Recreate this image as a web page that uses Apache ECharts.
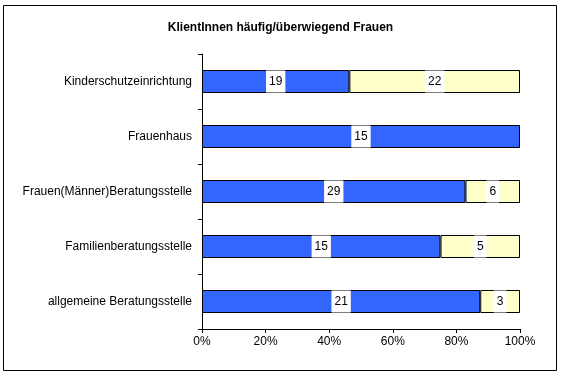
<!DOCTYPE html>
<html>
<head>
<meta charset="utf-8">
<script src="https://cdn.jsdelivr.net/npm/echarts@6/dist/echarts.min.js"></script>
<style>
  html, body { margin: 0; padding: 0; background: #fff; }
  #chart { width: 561px; height: 376px; }
</style>
</head>
<body>
<div id="chart"></div>
<script>
// categories top to bottom
const categories = [
  'Kinderschutzeinrichtung',
  'Frauenhaus',
  'Frauen(Männer)Beratungsstelle',
  'Familienberatungsstelle',
  'allgemeine Beratungsstelle',
];
// counts per category
const countsYes = [19, 15, 29, 15, 21];
const countsNo = [22, 0, 6, 5, 3];
const xTicks = [0, 20, 40, 60, 80, 100];

const totals = countsYes.map((v, i) => v + countsNo[i]);
const toPct = (arr) => arr.map((v, i) => (totals[i] ? (v / totals[i]) * 100 : 0));

const font = '"Liberation Sans", Arial, sans-serif';

const makeSeries = (name, counts, color) => ({
  name,
  type: 'bar',
  stack: 'total',
  barWidth: 23,
  data: toPct(counts).map((p, i) => (counts[i] ? { value: p, count: counts[i] } : null)),
  itemStyle: { color, borderColor: '#000', borderWidth: 1 },
  label: {
    show: true,
    position: 'inside',
    color: '#000',
    backgroundColor: '#fff',
    borderWidth: 0,
    textBorderWidth: 0,
    padding: [5, 3, 5, 3],
    fontFamily: font,
    fontSize: 12,
    formatter: (p) => String(p.data.count),
  },
  emphasis: { disabled: true },
});

const chart = echarts.init(document.getElementById('chart'), null, { renderer: 'canvas' });

chart.setOption({
  animation: false,
  title: {
    text: 'KlientInnen häufig/überwiegend Frauen',
    left: 'center',
    top: 17,
    textStyle: { fontFamily: font, fontSize: 12, fontWeight: 'bold', color: '#000' },
  },
  graphic: [{
    type: 'rect',
    shape: { x: 3.5, y: 5.5, width: 553, height: 365 },
    style: { fill: 'none', stroke: '#000', lineWidth: 1 },
    silent: true,
  }],
  grid: { left: 202, right: 41, top: 54, bottom: 47 },
  xAxis: {
    type: 'value',
    min: 0,
    max: 100,
    interval: 20,
    axisLine: { show: true, lineStyle: { color: '#000' } },
    axisTick: { show: true, length: 4, lineStyle: { color: '#000' } },
    splitLine: { show: false },
    axisLabel: {
      formatter: (v) => (xTicks.includes(v) ? v + '%' : ''),
      color: '#000',
      fontFamily: font,
      fontSize: 12,
      margin: 7,
    },
  },
  yAxis: {
    type: 'category',
    inverse: true,
    data: categories,
    axisLine: { show: true, lineStyle: { color: '#000' } },
    axisTick: { show: true, length: 4, lineStyle: { color: '#000' } },
    axisLabel: { color: '#000', fontFamily: font, fontSize: 12, margin: 10 },
  },
  series: [
    makeSeries('ja', countsYes, '#3366FF'),
    makeSeries('nein', countsNo, '#FFFFCC'),
  ],
});
</script>
</body>
</html>
